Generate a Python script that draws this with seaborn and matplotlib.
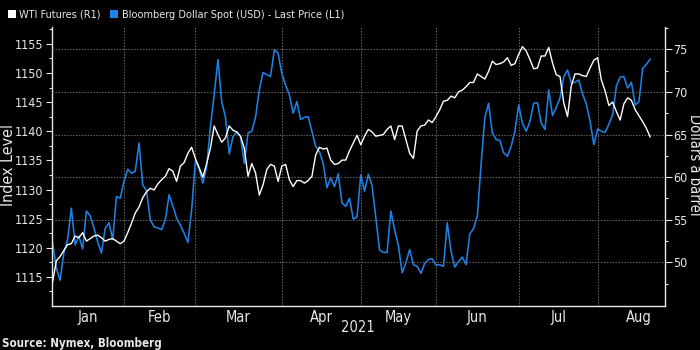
import numpy as np
import pandas as pd
import matplotlib
matplotlib.use("Agg")
import matplotlib.pyplot as plt
import seaborn as sns
from matplotlib.ticker import FixedLocator
from matplotlib.patches import Patch

# ---- data -------------------------------------------------------------
market_holidays = ["2021-01-18", "2021-02-15", "2021-04-02", "2021-05-31", "2021-07-05"]
trading_days = pd.bdate_range("2021-01-04", "2021-08-20", freq="C", holidays=market_holidays)

dollar_index = [
    1120.9, 1116.5, 1114.4, 1119.1, 1121.4, 1126.8, 1120.5, 1122.0, 1119.8, 1126.3,
    1125.5, 1123.4, 1121.0, 1119.1, 1123.3, 1124.3, 1121.4, 1128.8, 1128.5, 1131.4,
    1133.5, 1132.8, 1133.1, 1138.0, 1130.8, 1129.8, 1124.8, 1123.6, 1123.4, 1123.1,
    1124.8, 1129.1, 1127.2, 1125.1, 1123.9, 1122.5, 1120.9, 1126.5, 1135.0, 1133.5,
    1131.1, 1133.9, 1140.8, 1146.3, 1152.3, 1145.1, 1142.4, 1136.1, 1139.1, 1139.9,
    1139.1, 1134.5, 1139.7, 1140.0, 1142.4, 1147.1, 1150.1, 1149.7, 1149.4, 1154.0,
    1153.4, 1149.9, 1147.9, 1146.3, 1143.1, 1145.1, 1142.0, 1142.4, 1142.5, 1140.0,
    1137.4, 1136.5, 1134.5, 1130.3, 1132.0, 1130.5, 1132.7, 1127.7, 1127.1, 1128.5,
    1124.9, 1125.3, 1132.5, 1129.7, 1132.6, 1130.7, 1125.1, 1119.6, 1119.2, 1119.2,
    1126.3, 1123.1, 1120.4, 1115.7, 1117.4, 1119.7, 1117.1, 1116.8, 1115.6, 1117.3,
    1118.0, 1118.1, 1117.0, 1117.1, 1116.8, 1124.3, 1119.4, 1116.7, 1117.6, 1118.4,
    1117.1, 1122.4, 1123.3, 1125.4, 1134.3, 1142.3, 1144.8, 1139.7, 1138.6, 1138.4,
    1136.3, 1135.7, 1137.4, 1140.0, 1144.5, 1141.4, 1140.0, 1141.7, 1144.8, 1144.9,
    1141.4, 1140.3, 1147.1, 1142.7, 1144.1, 1145.7, 1149.4, 1150.5, 1148.3, 1148.4,
    1148.8, 1146.4, 1144.7, 1141.7, 1137.7, 1140.4, 1140.0, 1139.8, 1141.2, 1142.8,
    1147.8, 1149.3, 1149.4, 1147.4, 1148.4, 1144.5, 1145.1, 1150.8, 1151.5, 1152.4,
]

wti_price = [
    47.7, 50.2, 50.7, 51.4, 52.1, 52.2, 53.1, 52.9, 53.5, 52.5,
    52.8, 53.1, 53.2, 52.9, 52.5, 52.7, 52.8, 52.5, 52.2, 52.5,
    53.5, 54.6, 55.8, 56.5, 57.6, 58.3, 58.7, 58.5, 59.2, 59.7,
    60.1, 61.0, 60.7, 59.5, 61.3, 61.7, 62.8, 63.5, 62.2, 61.1,
    60.0, 61.6, 63.4, 66.0, 65.0, 64.1, 64.6, 66.0, 65.5, 65.3,
    64.8, 63.4, 60.1, 61.6, 60.5, 57.9, 59.1, 60.9, 61.5, 61.3,
    59.5, 61.3, 61.5, 59.7, 58.9, 59.6, 59.6, 59.3, 59.6, 60.1,
    62.6, 63.5, 63.3, 63.4, 62.0, 61.5, 61.6, 62.0, 62.0, 63.1,
    64.0, 64.9, 63.8, 64.8, 65.6, 65.3, 64.8, 64.9, 65.0, 65.6,
    66.0, 64.4, 66.0, 66.0, 64.4, 62.8, 62.2, 65.4, 66.0, 66.1,
    66.7, 66.4, 67.1, 67.9, 68.9, 69.0, 69.5, 69.3, 70.0, 70.2,
    70.6, 71.1, 71.1, 72.1, 71.8, 71.5, 72.4, 73.6, 73.2, 73.3,
    73.5, 74.0, 73.1, 73.3, 74.4, 75.3, 74.8, 73.8, 72.7, 72.8,
    74.2, 74.2, 75.2, 73.4, 72.0, 71.8, 68.7, 67.1, 70.7, 72.1,
    72.1, 71.9, 71.8, 72.8, 73.7, 74.0, 71.4, 70.1, 68.4, 68.8,
    67.7, 66.7, 68.6, 69.3, 69.0, 67.9, 67.2, 66.5, 65.7, 64.7,
]

month_labels = ["Jan", "Feb", "Mar", "Apr", "May", "Jun", "Jul", "Aug"]
year_label = "2021"
left_ticks = [1115, 1120, 1125, 1130, 1135, 1140, 1145, 1150, 1155]
right_ticks = [50, 55, 60, 65, 70, 75]
legend_labels = ["WTI Futures (R1)", "Bloomberg Dollar Spot (USD) - Last Price (L1)"]
left_title = "Index Level"
right_title = "Dollars a barrel"
source_text = "Source: Nymex, Bloomberg"

# ---- style ------------------------------------------------------------
BLUE = "#1f80e6"
FG = "#e8e8e8"
GRID = "#6a6a6a"

sns.set_theme(style="dark", rc={
    "figure.facecolor": "black",
    "axes.facecolor": "black",
    "savefig.facecolor": "black",
    "text.color": FG,
    "axes.labelcolor": FG,
    "xtick.color": FG,
    "ytick.color": FG,
})
plt.rcParams["font.family"] = ["DejaVu Sans"]
plt.rcParams["font.stretch"] = "condensed"

df = pd.DataFrame({
    "pos": np.arange(len(trading_days)),
    "date": trading_days,
    "dollar": dollar_index,
    "wti": wti_price,
})

fig = plt.figure(figsize=(7, 3.5), dpi=100)
ax = fig.add_axes([52 / 700, 44 / 350, 612.5 / 700, 279 / 350])
ax2 = ax.twinx()

sns.lineplot(data=df, x="pos", y="dollar", ax=ax, color=BLUE, lw=1.15)
sns.lineplot(data=df, x="pos", y="wti", ax=ax2, color="white", lw=1.0)

ax.set_xlim(-0.15, 162.8)
ax.set_ylim(1110.0, 1157.9)
ax2.set_ylim(44.9, 77.6)

# month boundaries from the trading calendar
full_cal = pd.bdate_range("2021-01-04", "2021-08-31", freq="C", holidays=market_holidays)
month_start = [int(np.argmax(full_cal.month == m)) for m in range(1, 9)] + [len(full_cal)]
centers = [(month_start[k] + month_start[k + 1]) / 2 for k in range(8)]

ax.xaxis.set_major_locator(FixedLocator(centers))
ax.set_xticklabels(month_labels)
ax.xaxis.set_minor_locator(FixedLocator(month_start[1:8]))
ax.tick_params(axis="x", which="major", length=0, pad=3, labelsize=10.5, colors=FG)
ax.tick_params(axis="x", which="minor", length=4, width=0.8, direction="out", color=FG)
ax.set_xlabel("")

ax.yaxis.set_major_locator(FixedLocator(left_ticks))
ax.yaxis.set_minor_locator(FixedLocator([v + 2.5 for v in [1110] + left_ticks]))
ax.tick_params(axis="y", which="major", length=4, width=0.8, direction="out", labelsize=9, colors=FG, pad=2)
ax.tick_params(axis="y", which="minor", length=2.5, width=0.8, direction="out", color=FG)
ax.set_ylabel("")

ax2.yaxis.set_major_locator(FixedLocator(right_ticks))
ax2.yaxis.set_minor_locator(FixedLocator([v + 2.5 for v in [45] + right_ticks]))
ax2.tick_params(axis="y", which="major", length=5, width=0.8, direction="out", labelsize=9, colors=FG, pad=1.5)
ax2.tick_params(axis="y", which="minor", length=2.5, width=0.8, direction="out", color=FG)
ax2.set_ylabel("")

# grids
ax.grid(False)
ax2.grid(False)
ax.xaxis.grid(True, which="minor", linestyle=(0, (1.5, 1.5)), color=GRID, lw=0.7)
ax2.yaxis.grid(True, which="major", linestyle=(0, (1.5, 1.5)), color=GRID, lw=0.7)

for a in (ax, ax2):
    for s in a.spines.values():
        s.set_visible(False)
ax.spines["left"].set_visible(True)
ax.spines["bottom"].set_visible(True)
ax2.spines["right"].set_visible(True)
for s in (ax.spines["left"], ax.spines["bottom"], ax2.spines["right"]):
    s.set_color(FG)
    s.set_linewidth(1.0)

# titles / labels
fig.text(9 / 700, 1 - 165 / 350, left_title, rotation=90, ha="center", va="center",
         rotation_mode="anchor", fontsize=11.5, color=FG)
fig.text(694 / 700, 1 - 165 / 350, right_title, rotation=270, ha="center", va="center",
         rotation_mode="anchor", fontsize=10.5, color=FG)
fig.text(358 / 700, 1 - 328 / 350, year_label, ha="center", va="center", fontsize=10.5, color=FG)
fig.text(2 / 700, 1 - 343 / 350, source_text, ha="left", va="center", fontsize=8.3,
         fontweight="bold", color=FG)

handles = [Patch(facecolor="white", edgecolor="none"), Patch(facecolor=BLUE, edgecolor="none")]
fig.legend(handles, legend_labels, loc="upper left", bbox_to_anchor=(0.0, 1.0 - 2 / 350),
           ncol=2, frameon=False, fontsize=7.8, labelcolor=FG, handlelength=0.75,
           handleheight=0.75, handletextpad=0.3, columnspacing=0.9, borderaxespad=0.3)

fig.savefig("out.png", dpi=100, facecolor="black")
